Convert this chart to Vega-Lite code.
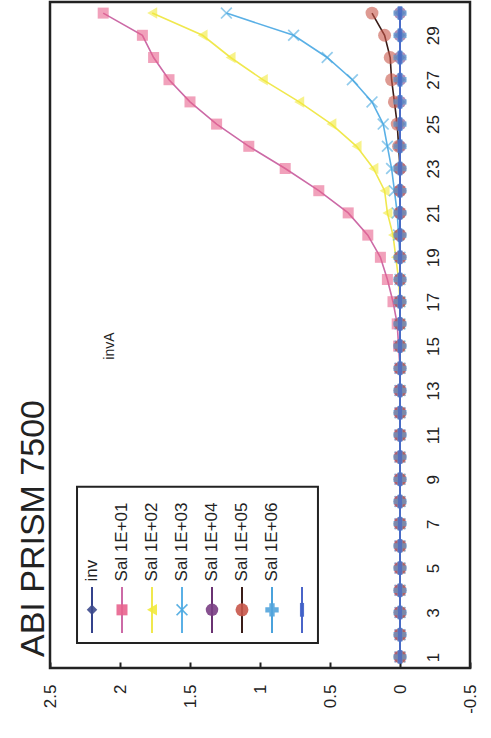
{
  "$schema": "https://vega.github.io/schema/vega-lite/v6.json",
  "width": 420,
  "height": 666,
  "autosize": {"type": "none"},
  "padding": {"left": 50, "top": 2, "right": 21, "bottom": 70},
  "background": "white",
  "config": {
    "font": "Liberation Sans",
    "view": {"stroke": "#222222", "strokeWidth": 2.5},
    "axis": {"grid": false}
  },
  "title": {
    "text": "ABI PRISM 7500",
    "orient": "left",
    "anchor": "start",
    "frame": "group",
    "fontSize": 34,
    "fontWeight": "normal",
    "font": "Liberation Sans",
    "color": "#222222",
    "offset": -10,
    "dx": 11
  },
  "datasets": {
    "curves": [
      {"cycle": 1, "inv": 0, "s1": 0, "s2": 0, "s3": 0, "s4": 0, "s5": 0, "s6": 0, "s7": 0},
      {"cycle": 2, "inv": 0, "s1": 0, "s2": 0, "s3": 0, "s4": 0, "s5": 0, "s6": 0, "s7": 0},
      {"cycle": 3, "inv": 0, "s1": 0, "s2": 0, "s3": 0, "s4": 0, "s5": 0, "s6": 0, "s7": 0},
      {"cycle": 4, "inv": 0, "s1": 0, "s2": 0, "s3": 0, "s4": 0, "s5": 0, "s6": 0, "s7": 0},
      {"cycle": 5, "inv": 0, "s1": 0, "s2": 0, "s3": 0, "s4": 0, "s5": 0, "s6": 0, "s7": 0},
      {"cycle": 6, "inv": 0, "s1": 0, "s2": 0, "s3": 0, "s4": 0, "s5": 0, "s6": 0, "s7": 0},
      {"cycle": 7, "inv": 0, "s1": 0, "s2": 0, "s3": 0, "s4": 0, "s5": 0, "s6": 0, "s7": 0},
      {"cycle": 8, "inv": 0, "s1": 0, "s2": 0, "s3": 0, "s4": 0, "s5": 0, "s6": 0, "s7": 0},
      {"cycle": 9, "inv": 0, "s1": 0, "s2": 0, "s3": 0, "s4": 0, "s5": 0, "s6": 0, "s7": 0},
      {"cycle": 10, "inv": 0, "s1": 0, "s2": 0, "s3": 0, "s4": 0, "s5": 0, "s6": 0, "s7": 0},
      {"cycle": 11, "inv": 0, "s1": 0, "s2": 0, "s3": 0, "s4": 0, "s5": 0, "s6": 0, "s7": 0},
      {"cycle": 12, "inv": 0, "s1": 0, "s2": 0, "s3": 0, "s4": 0, "s5": 0, "s6": 0, "s7": 0},
      {"cycle": 13, "inv": 0, "s1": 0, "s2": 0, "s3": 0, "s4": 0, "s5": 0, "s6": 0, "s7": 0},
      {"cycle": 14, "inv": 0, "s1": 0, "s2": 0, "s3": 0, "s4": 0, "s5": 0, "s6": 0, "s7": 0},
      {"cycle": 15, "inv": 0, "s1": 0.01, "s2": 0, "s3": 0, "s4": 0, "s5": 0, "s6": 0, "s7": 0},
      {"cycle": 16, "inv": 0, "s1": 0.02, "s2": 0, "s3": 0, "s4": 0, "s5": 0, "s6": 0, "s7": 0},
      {"cycle": 17, "inv": 0, "s1": 0.05, "s2": 0, "s3": 0, "s4": 0, "s5": 0, "s6": 0, "s7": 0},
      {"cycle": 18, "inv": 0, "s1": 0.09, "s2": 0.01, "s3": 0, "s4": 0, "s5": 0, "s6": 0, "s7": 0},
      {"cycle": 19, "inv": 0, "s1": 0.14, "s2": 0.03, "s3": 0, "s4": 0, "s5": 0, "s6": 0, "s7": 0},
      {"cycle": 20, "inv": 0, "s1": 0.23, "s2": 0.05, "s3": 0.01, "s4": 0, "s5": 0, "s6": 0, "s7": 0},
      {"cycle": 21, "inv": 0, "s1": 0.37, "s2": 0.09, "s3": 0.02, "s4": 0, "s5": 0, "s6": 0, "s7": 0},
      {"cycle": 22, "inv": 0, "s1": 0.58, "s2": 0.11, "s3": 0.04, "s4": 0, "s5": 0, "s6": 0, "s7": 0},
      {"cycle": 23, "inv": 0, "s1": 0.82, "s2": 0.19, "s3": 0.06, "s4": 0, "s5": 0, "s6": 0, "s7": 0},
      {"cycle": 24, "inv": 0, "s1": 1.08, "s2": 0.31, "s3": 0.09, "s4": 0, "s5": 0.01, "s6": 0, "s7": 0},
      {"cycle": 25, "inv": 0, "s1": 1.31, "s2": 0.49, "s3": 0.12, "s4": 0, "s5": 0.02, "s6": 0, "s7": 0},
      {"cycle": 26, "inv": 0, "s1": 1.5, "s2": 0.72, "s3": 0.2, "s4": 0, "s5": 0.04, "s6": 0, "s7": 0},
      {"cycle": 27, "inv": 0, "s1": 1.65, "s2": 0.98, "s3": 0.34, "s4": 0, "s5": 0.06, "s6": 0, "s7": 0},
      {"cycle": 28, "inv": 0, "s1": 1.76, "s2": 1.21, "s3": 0.52, "s4": 0, "s5": 0.07, "s6": 0, "s7": 0},
      {"cycle": 29, "inv": 0, "s1": 1.84, "s2": 1.41, "s3": 0.76, "s4": 0, "s5": 0.11, "s6": 0, "s7": 0},
      {"cycle": 30, "inv": 0, "s1": 2.12, "s2": 1.77, "s3": 1.24, "s4": 0, "s5": 0.2, "s6": 0, "s7": 0}
    ],
    "legend": [
      {"series": "inv", "label": "inv"},
      {"series": "s1", "label": "Sal 1E+01"},
      {"series": "s2", "label": "Sal 1E+02"},
      {"series": "s3", "label": "Sal 1E+03"},
      {"series": "s4", "label": "Sal 1E+04"},
      {"series": "s5", "label": "Sal 1E+05"},
      {"series": "s6", "label": "Sal 1E+06"},
      {"series": "s7", "label": ""}
    ],
    "notes": [
      {"note": "invA", "value": 2.07, "cycle": 15}
    ]
  },
  "resolve": {
    "scale": {"x": "independent"},
    "axis": {"x": "independent", "y": "independent"}
  },
  "layer": [
    {
      "data": {"values": [{"box": "legend"}]},
      "mark": {"type": "rect", "fill": "white", "stroke": "#222222", "strokeWidth": 2},
      "encoding": {
        "x": {"datum": 2.307, "type": "quantitative", "scale": {"domain": [-0.5, 2.5], "reverse": true, "nice": false, "zero": false}, "axis": null},
        "x2": {"datum": 0.586},
        "y": {"datum": 8.66, "type": "quantitative", "scale": {"domain": [0.5, 30.5], "nice": false, "zero": false}, "axis": null},
        "y2": {"datum": 1.63}
      }
    },
    {
      "data": {"name": "curves"},
      "transform": [{"fold": ["inv", "s1", "s2", "s3", "s4", "s5", "s6", "s7"], "as": ["series", "value"]}],
      "mark": {"type": "line", "strokeWidth": 1.6},
      "encoding": {
        "x": {
          "field": "value", "type": "quantitative",
          "scale": {"domain": [-0.5, 2.5], "reverse": true, "nice": false, "zero": false},
          "axis": {
            "orient": "bottom", "values": [-0.5, 0, 0.5, 1, 1.5, 2, 2.5],
            "labelExpr": "'' + datum.value", "title": null, "domain": false,
            "ticks": true, "tickSize": -6, "tickColor": "#222222", "tickWidth": 2,
            "labelAngle": 270, "labelAlign": "right", "labelBaseline": "middle",
            "labelPadding": 22, "labelFontSize": 17, "labelColor": "#222222", "labelFont": "Liberation Sans"
          }
        },
        "y": {
          "field": "cycle", "type": "quantitative",
          "scale": {"domain": [0.5, 30.5], "nice": false, "zero": false},
          "axis": {
            "orient": "right", "values": [1, 3, 5, 7, 9, 11, 13, 15, 17, 19, 21, 23, 25, 27, 29],
            "title": null, "domain": false, "ticks": false, "offset": -37,
            "labelAngle": 270, "labelAlign": "center", "labelBaseline": "middle",
            "labelPadding": 0, "labelFontSize": 17, "labelColor": "#222222", "labelFont": "Liberation Sans"
          }
        },
        "order": {"field": "cycle", "type": "quantitative"},
        "stroke": {
          "field": "series", "type": "nominal", "legend": null,
          "scale": {
            "domain": ["inv", "s1", "s2", "s3", "s4", "s5", "s6", "s7"],
            "range": ["#34428c", "#cc6aa6", "#f0e84e", "#5ab0e6", "#6a3272", "#3a1c18", "#4aa2dc", "#4a64c8"]
          }
        }
      }
    },
    {
      "data": {"name": "curves"},
      "transform": [{"fold": ["inv", "s1", "s2", "s3", "s4", "s5", "s6", "s7"], "as": ["series", "value"]}],
      "mark": {"type": "point", "filled": true, "opacity": 0.6},
      "encoding": {
        "x": {"field": "value", "type": "quantitative", "scale": {"domain": [-0.5, 2.5], "reverse": true, "nice": false, "zero": false}, "axis": null},
        "y": {"field": "cycle", "type": "quantitative", "scale": {"domain": [0.5, 30.5], "nice": false, "zero": false}, "axis": null},
        "fill": {
          "field": "series", "type": "nominal", "legend": null,
          "scale": {
            "domain": ["inv", "s1", "s2", "s3", "s4", "s5", "s6", "s7"],
            "range": ["#3d4a8c", "#e8638e", "#f2ea3c", "#4aa8e0", "#7a3e84", "#c8564a", "#52a4dc", "#4060c8"]
          }
        },
        "shape": {
          "field": "series", "type": "nominal", "legend": null,
          "scale": {
            "domain": ["inv", "s1", "s2", "s3", "s4", "s5", "s6", "s7"],
            "range": ["diamond", "square", "triangle-left", "M-1,-0.8L-0.8,-1L0,-0.2L0.8,-1L1,-0.8L0.2,0L1,0.8L0.8,1L0,0.2L-0.8,1L-1,0.8L-0.2,0Z", "circle", "circle", "cross", "M-0.3,-1L0.3,-1L0.3,1L-0.3,1Z"]
          }
        },
        "size": {
          "field": "series", "type": "nominal", "legend": null,
          "scale": {
            "domain": ["inv", "s1", "s2", "s3", "s4", "s5", "s6", "s7"],
            "range": [110, 190, 150, 110, 50, 130, 80, 70]
          }
        }
      }
    },
    {
      "data": {"name": "legend"},
      "mark": {"type": "rule", "strokeWidth": 2},
      "encoding": {
        "x": {"field": "series", "type": "nominal", "scale": {"type": "point", "domain": ["inv", "s1", "s2", "s3", "s4", "s5", "s6", "s7"], "range": [42, 252], "padding": 0}, "axis": null},
        "y": {"datum": 2.08, "type": "quantitative", "scale": {"domain": [0.5, 30.5], "nice": false, "zero": false}, "axis": null},
        "y2": {"datum": 4.15},
        "stroke": {"field": "series", "type": "nominal", "legend": null}
      }
    },
    {
      "data": {"name": "legend"},
      "mark": {"type": "point", "filled": true, "opacity": 0.9},
      "encoding": {
        "x": {"field": "series", "type": "nominal", "scale": {"type": "point", "domain": ["inv", "s1", "s2", "s3", "s4", "s5", "s6", "s7"], "range": [42, 252], "padding": 0}, "axis": null},
        "y": {"datum": 3.12, "type": "quantitative", "scale": {"domain": [0.5, 30.5], "nice": false, "zero": false}, "axis": null},
        "fill": {"field": "series", "type": "nominal", "legend": null},
        "shape": {"field": "series", "type": "nominal", "legend": null},
        "size": {"field": "series", "type": "nominal", "legend": null}
      }
    },
    {
      "data": {"name": "legend"},
      "mark": {"type": "text", "angle": 270, "align": "left", "baseline": "middle", "fontSize": 17, "font": "Liberation Sans", "color": "#222222"},
      "encoding": {
        "x": {"field": "series", "type": "nominal", "scale": {"type": "point", "domain": ["inv", "s1", "s2", "s3", "s4", "s5", "s6", "s7"], "range": [42, 252], "padding": 0}, "axis": null},
        "y": {"datum": 4.4, "type": "quantitative", "scale": {"domain": [0.5, 30.5], "nice": false, "zero": false}, "axis": null},
        "text": {"field": "label"}
      }
    },
    {
      "data": {"name": "notes"},
      "mark": {"type": "text", "angle": 270, "align": "center", "baseline": "middle", "fontSize": 14, "font": "Liberation Sans", "color": "#222222"},
      "encoding": {
        "x": {"field": "value", "type": "quantitative", "scale": {"domain": [-0.5, 2.5], "reverse": true, "nice": false, "zero": false}, "axis": null},
        "y": {"field": "cycle", "type": "quantitative", "scale": {"domain": [0.5, 30.5], "nice": false, "zero": false}, "axis": null},
        "text": {"field": "note"}
      }
    }
  ]
}
